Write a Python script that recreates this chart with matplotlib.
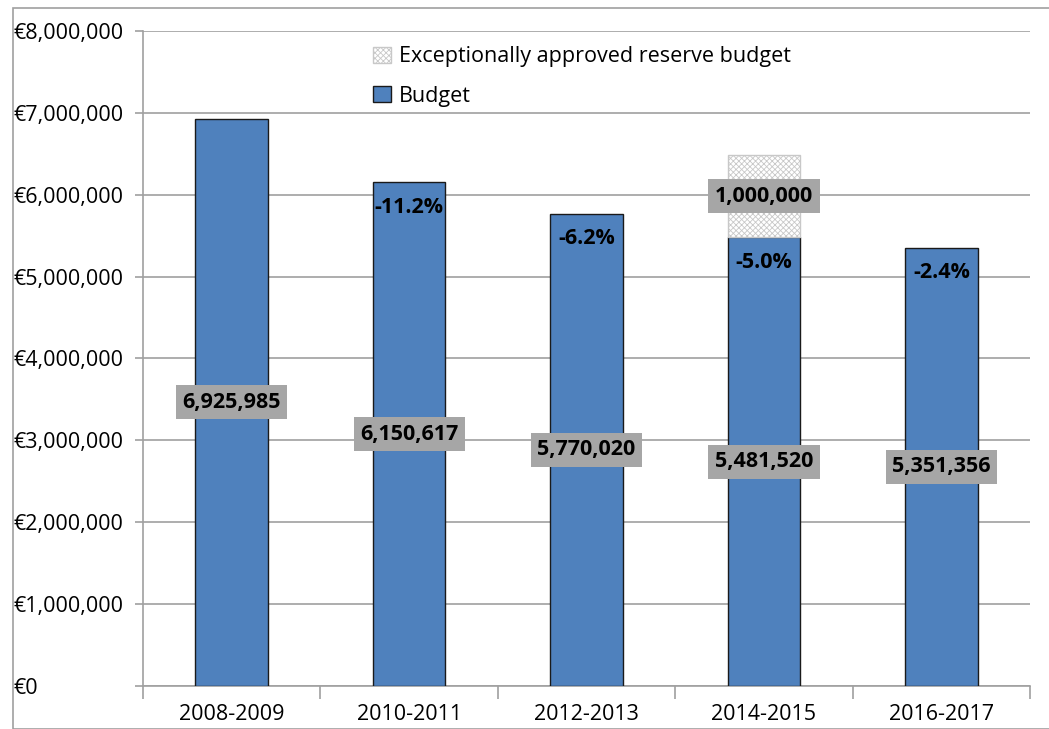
import numpy as np
import matplotlib.pyplot as plt
from matplotlib.patches import Patch, Rectangle
from matplotlib.ticker import FuncFormatter

plt.rcParams['font.family'] = ['Open Sans', 'DejaVu Sans']
plt.rcParams['hatch.color'] = '#b0b0b0'
plt.rcParams['hatch.linewidth'] = 0.6

periods = ["2008-2009", "2010-2011", "2012-2013", "2014-2015", "2016-2017"]
budget = [6925985, 6150617, 5770020, 5481520, 5351356]
reserve = [0, 0, 0, 1000000, 0]

blue = '#4f81bd'
grid_c = '#a0a0a0'
fs = 15.5

fig = plt.figure(figsize=(10.49, 7.29), dpi=100)
ax = fig.add_axes([0.1363, 0.059, 0.8457, 0.8985])
fig.patches.append(Rectangle((13/1049, 0), 1, 1 - 8/729, transform=fig.transFigure,
                             fill=False, edgecolor='#a0a0a0', lw=1.2))

x = np.arange(len(periods))
w = 0.41
ax.bar(x, budget, w, color=blue, edgecolor='#1a1a1a', lw=1.0, zorder=3)
ax.bar(x[np.array(reserve) > 0], [r for r in reserve if r > 0], w,
       bottom=[b for b, r in zip(budget, reserve) if r > 0],
       color='white', hatch='xxxxxx', edgecolor='#c8c8c8', lw=1.0, zorder=3)

box = dict(boxstyle='square,pad=0.3', fc='#a6a6a6', ec='none')
for i, b in enumerate(budget):
    ax.text(x[i], b / 2, f"{b:,}", ha='center', va='center', fontsize=fs,
            fontweight='bold', bbox=box, zorder=5)
    if i > 0:
        pct = (b / budget[i - 1] - 1) * 100
        ax.annotate(f"{pct:.1f}%", (x[i], b), xytext=(0, -18), textcoords='offset points',
                    ha='center', va='center', fontsize=fs, fontweight='bold', zorder=5)
    if reserve[i] > 0:
        ax.text(x[i], b + reserve[i] / 2, f"{reserve[i]:,}", ha='center', va='center',
                fontsize=fs, fontweight='bold', bbox=box, zorder=5)

ax.set_xlim(-0.5, 4.5)
ax.set_ylim(0, 8000000)
ax.set_yticks(np.arange(0, 8000001, 1000000))
ax.yaxis.set_major_formatter(FuncFormatter(lambda v, p: "€{:,.0f}".format(v)))
ax.set_xticks(x)
ax.set_xticklabels(periods, fontsize=fs)
ax.set_xticks(np.arange(-0.5, 5, 1), minor=True)
ax.tick_params(axis='x', which='major', length=0, pad=13)
ax.tick_params(axis='x', which='minor', length=9, color=grid_c, width=1.2)
ax.tick_params(axis='y', length=6, color=grid_c, width=1.2, labelsize=fs, pad=87)
for lab in ax.get_yticklabels():
    lab.set_horizontalalignment('left')

ax.grid(axis='y', color=grid_c, lw=1.2, zorder=0)
ax.set_axisbelow(True)
for s in ['top', 'right']:
    ax.spines[s].set_visible(False)
for s in ['left', 'bottom']:
    ax.spines[s].set_color(grid_c)
    ax.spines[s].set_linewidth(1.2)

handles = [Patch(facecolor='white', edgecolor='#c8c8c8', hatch='xxxxxx', label='Exceptionally approved reserve budget'),
           Patch(facecolor=blue, edgecolor='#1a1a1a', label='Budget')]
ax.legend(handles=handles, loc='upper left', bbox_to_anchor=(0.238, 1.006), frameon=False,
          fontsize=fs, handlelength=0.8, handleheight=0.8, handletextpad=0.4, labelspacing=0.85)

fig.savefig('out.png', dpi=100)
